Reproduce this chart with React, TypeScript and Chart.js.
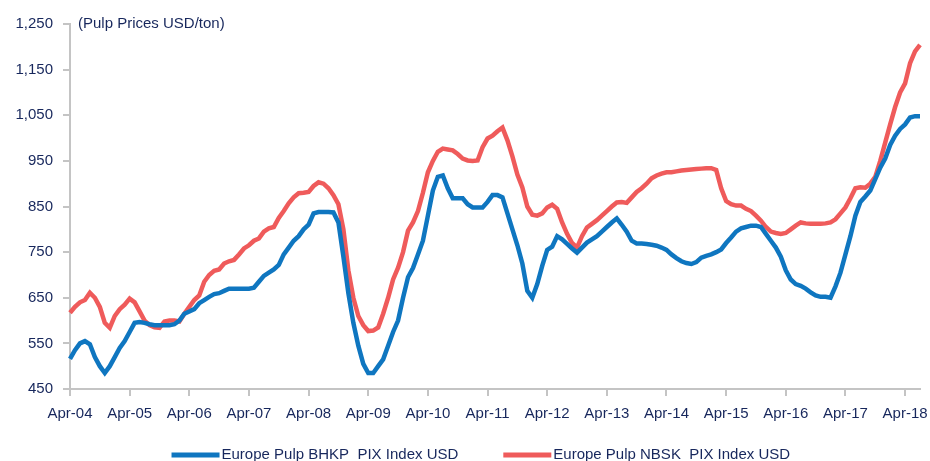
import React, { useEffect, useRef } from "react";
import { Chart, registerables } from "chart.js";

Chart.register(...registerables);

const MONTH_NAMES = ["Jan", "Feb", "Mar", "Apr", "May", "Jun", "Jul", "Aug", "Sep", "Oct", "Nov", "Dec"];
const START_YEAR = 2004;
const START_MONTH = 3; // April

const chartTitle = "(Pulp Prices USD/ton)";
const seriesNames = ["Europe Pulp BHKP  PIX Index USD", "Europe Pulp NBSK  PIX Index USD"];
const seriesColors = ["#0f76c0", "#ef5b5b"];

const yMin = 450;
const yMax = 1250;
const yStep = 100;

// Monthly values Apr-04 .. Jul-18
const bhkp = [
  516, 535, 550, 555, 548, 520, 500, 485, 500, 520, 540, 555,
  575, 595, 597, 595, 592, 590, 590, 590, 590, 592, 600, 615,
  620, 625, 638, 645, 652, 658, 660, 665, 670, 670, 670, 670,
  670, 672, 685, 698, 705, 712, 722, 745, 760, 775, 785, 800,
  810, 835, 838, 838, 838, 837, 815, 740, 660, 595, 545, 505,
  485, 485, 500, 515, 545, 575, 600, 650, 695, 715, 745, 775,
  830, 885, 915, 918, 890, 868, 868, 868, 855, 848, 848, 848,
  860, 875, 875, 870, 835, 800, 765, 725, 665, 650, 680, 720,
  755, 762, 785, 778, 768, 758, 749, 760, 771, 778, 785, 795,
  805, 815, 824, 810, 795, 775, 769, 769, 768, 766, 764, 760,
  755, 745, 737, 730, 726, 724, 728, 738, 742, 745, 750, 756,
  770, 782, 795, 802, 805, 808, 808, 805, 790, 775, 760, 740,
  710, 690, 680, 676, 670, 662, 655, 652, 652, 650, 675, 705,
  745, 785, 830, 860, 872, 885, 910, 935, 955, 985, 1005, 1020,
  1030, 1045, 1048, 1048,
];

const nbsk = [
  617, 630, 640, 645, 661, 650, 630, 595, 584, 610, 625, 635,
  648, 640, 620, 600, 590, 585, 584, 598, 600, 600, 598, 615,
  630, 645, 655, 685, 700, 709, 712, 725, 730, 733, 745, 758,
  765, 775, 780, 795, 802, 805, 825, 840, 857, 870, 879, 880,
  882, 895, 903, 900, 890, 875, 855, 800, 710, 650, 610, 590,
  577, 578, 585, 615, 650, 690, 716, 750, 797, 815, 840, 880,
  925, 950, 970, 977, 975, 973, 965, 955, 951, 950, 951, 980,
  999, 1005, 1015, 1023, 995, 960, 920, 892, 850, 832, 830, 835,
  848, 854, 845, 815, 790, 770, 760, 785, 804, 812, 820, 830,
  840, 850, 859, 860, 858, 870, 882, 890, 900, 912, 918, 922,
  925, 925, 927, 929, 930, 931, 932, 933, 934, 934, 930, 890,
  862, 855, 852, 852, 845, 840, 830, 819, 805, 795, 792, 790,
  792, 800, 808, 815, 813, 812, 812, 812, 813, 815, 822, 835,
  848, 868, 890, 892, 891, 900, 915, 950, 990, 1030, 1068, 1100,
  1120, 1164, 1190, 1204,
];

const months: string[] = [];
for (let i = 0; i < bhkp.length; i++) {
  const mi = (START_MONTH + i) % 12;
  const yr = START_YEAR + Math.floor((START_MONTH + i) / 12);
  months.push(`${MONTH_NAMES[mi]}-${String(yr % 100).padStart(2, "0")}`);
}

const TEXT_COLOR = "#17275c";
const AXIS_COLOR = "#c4c4c4";
const FONT_FAMILY = "'Liberation Sans', Arial, sans-serif";
const FONT_SIZE = 15;

const overlayPlugin = {
  id: "overlay",
  afterDraw(chart: any) {
    const { ctx, chartArea } = chart;
    ctx.save();
    ctx.font = `${FONT_SIZE}px ${FONT_FAMILY}`;
    ctx.fillStyle = TEXT_COLOR;
    ctx.textBaseline = "middle";
    ctx.textAlign = "left";
    ctx.fillText(chartTitle, chartArea.left + 8, chartArea.top);

    // legend
    const ds = chart.data.datasets;
    const lineLen = 48;
    const textGap = 2;
    const itemGap = 45;
    const widths = ds.map((d: any) => lineLen + textGap + ctx.measureText(d.label).width);
    const total = widths.reduce((a: number, b: number) => a + b, 0) + itemGap * (ds.length - 1);
    let x = chart.width * 0.517 - total / 2;
    const y = chart.height - 6;
    ds.forEach((d: any, i: number) => {
      ctx.fillStyle = d.borderColor;
      ctx.fillRect(x, y - 2.5, lineLen, 5);
      ctx.fillStyle = TEXT_COLOR;
      ctx.fillText(d.label, x + lineLen + textGap, y);
      x += widths[i] + itemGap;
    });
    ctx.restore();
  },
};

export default function App() {
  const canvasRef = useRef<HTMLCanvasElement | null>(null);

  useEffect(() => {
    if (!canvasRef.current) return;
    const chart = new Chart(canvasRef.current, {
      type: "line",
      data: {
        labels: months,
        datasets: [
          {
            label: seriesNames[0],
            data: bhkp,
            borderColor: seriesColors[0],
            backgroundColor: seriesColors[0],
            borderWidth: 4.5,
            pointRadius: 0,
            tension: 0,
          },
          {
            label: seriesNames[1],
            data: nbsk,
            borderColor: seriesColors[1],
            backgroundColor: seriesColors[1],
            borderWidth: 4.5,
            pointRadius: 0,
            tension: 0,
          },
        ],
      },
      options: {
        animation: false,
        responsive: false,
        maintainAspectRatio: false,
        layout: { padding: { left: 0, right: 10, top: 24, bottom: 29 } },
        plugins: {
          legend: { display: false },
          tooltip: { enabled: false },
          title: { display: false },
        },
        scales: {
          x: {
            offset: false,
            grid: {
              display: true,
              drawOnChartArea: false,
              drawTicks: true,
              tickLength: 7,
              color: AXIS_COLOR,
              lineWidth: 2,
            },
            border: { display: true, color: AXIS_COLOR, width: 2 },
            ticks: {
              autoSkip: false,
              maxRotation: 0,
              minRotation: 0,
              padding: 9,
              color: TEXT_COLOR,
              font: { family: FONT_FAMILY, size: FONT_SIZE },
              callback: (_v: any, idx: number) =>
                months[idx] && months[idx].startsWith("Apr") ? months[idx] : null,
            },
            afterFit: (s: any) => {
              s.paddingLeft = 0;
              s.paddingRight = 0;
            },
          },
          y: {
            min: yMin,
            max: yMax,
            grid: {
              display: true,
              drawOnChartArea: false,
              drawTicks: true,
              tickLength: 7,
              color: AXIS_COLOR,
              lineWidth: 2,
            },
            border: { display: true, color: AXIS_COLOR, width: 2 },
            ticks: {
              stepSize: yStep,
              padding: 10,
              color: TEXT_COLOR,
              font: { family: FONT_FAMILY, size: FONT_SIZE },
              callback: (v: any) => Number(v).toLocaleString("en-US"),
            },
            afterFit: (s: any) => {
              s.width = 70;
            },
          },
        },
      },
      plugins: [overlayPlugin],
    });
    return () => chart.destroy();
  }, []);

  return (
    <div style={{ position: "fixed", left: 0, top: 0, width: 930, height: 461, background: "#fff" }}>
      <canvas ref={canvasRef} width={930} height={461} style={{ width: 930, height: 461 }} />
    </div>
  );
}
